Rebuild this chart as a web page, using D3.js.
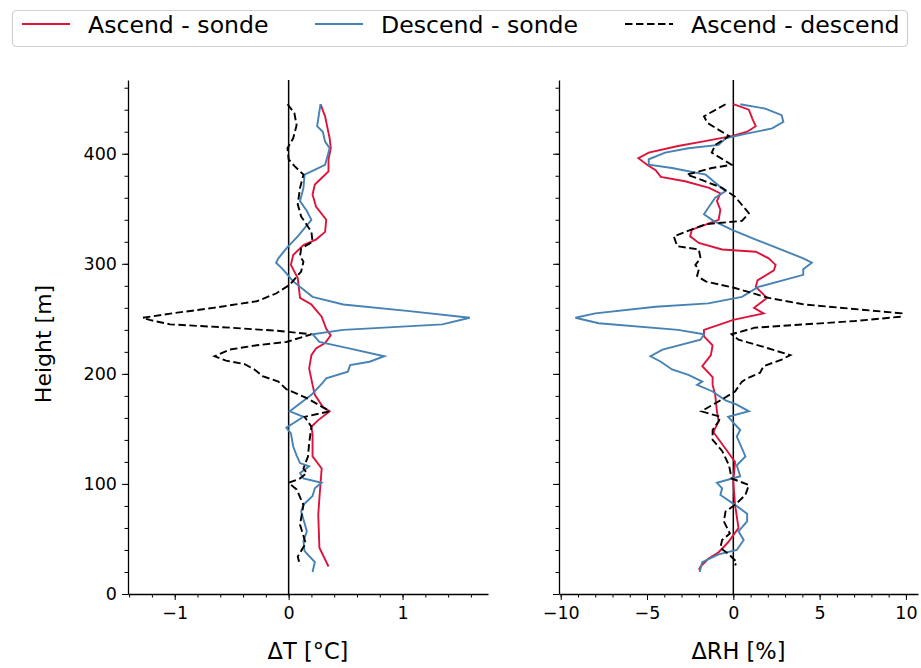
<!DOCTYPE html>
<html>
<head>
<meta charset="utf-8">
<script src="https://cdn.jsdelivr.net/npm/d3@7"></script>
<style>
  body { margin: 0; background: #fff; }
  svg { display: block; font-family: "DejaVu Sans", sans-serif; }
</style>
</head>
<body>
<div id="chart"></div>
<script>
// [height m, value] pairs
const tAscend = [[445,0.28],[434,0.32],[414,0.36],[405,0.37],[395,0.35],[384,0.35],[378,0.29],[372,0.23],[363,0.21],[352,0.24],[340,0.33],[329,0.32],[322,0.24],[317,0.13],[308,0.04],[299,0.02],[287,0.08],[269,0.10],[263,0.20],[252,0.29],[241,0.33],[235,0.37],[228,0.32],[223,0.24],[217,0.20],[205,0.18],[190,0.21],[181,0.23],[170,0.30],[166,0.36],[158,0.26],[152,0.20],[145,0.21],[125,0.21],[114,0.29],[87,0.27],[72,0.26],[42,0.27],[25,0.35]];
const tDescend = [[445,0.28],[425,0.25],[420,0.30],[411,0.32],[405,0.36],[390,0.32],[381,0.14],[369,0.13],[357,0.10],[348,0.16],[340,0.20],[325,0.08],[314,-0.02],[305,-0.09],[301,-0.11],[295,-0.05],[284,0.04],[270,0.21],[263,0.48],[257,1.06],[251,1.59],[245,1.35],[240,0.48],[236,0.21],[229,0.27],[223,0.54],[216,0.84],[211,0.71],[208,0.54],[202,0.52],[196,0.33],[192,0.30],[181,0.20],[166,0.01],[161,0.13],[151,-0.02],[146,0.02],[134,0.04],[126,0.07],[119,0.10],[116,0.18],[110,0.10],[105,0.13],[101,0.29],[96,0.23],[89,0.21],[81,0.13],[75,0.11],[57,0.16],[48,0.13],[39,0.14],[29,0.23],[20,0.21]];
const tDiff = [[445,-0.01],[437,0.05],[426,0.07],[414,0.04],[405,-0.01],[395,0.00],[389,0.05],[381,0.13],[369,0.10],[354,0.08],[343,0.11],[329,0.20],[320,0.21],[314,0.11],[307,0.10],[302,0.13],[293,0.11],[281,0.01],[273,-0.11],[266,-0.28],[260,-0.66],[255,-1.02],[251,-1.28],[249,-1.22],[245,-1.04],[242,-0.52],[239,-0.08],[236,0.20],[229,-0.02],[226,-0.28],[222,-0.52],[216,-0.65],[212,-0.55],[209,-0.39],[204,-0.30],[198,-0.23],[193,-0.09],[186,-0.02],[178,0.16],[166,0.36],[161,0.14],[152,0.20],[137,0.18],[125,0.17],[114,0.13],[110,0.16],[105,0.10],[101,0.00],[95,0.07],[81,0.13],[63,0.10],[46,0.15],[34,0.08],[26,0.10]];

const rhAscend = [[445,0.0],[440,0.9],[432,1.1],[425,1.3],[420,0.8],[416,-0.1],[411,-1.8],[407,-3.2],[401,-4.9],[396,-5.5],[390,-5.0],[385,-4.5],[379,-4.2],[375,-2.8],[369,-1.4],[364,-0.75],[357,-0.95],[349,-0.75],[340,-0.85],[331,-2.4],[325,-2.5],[319,-2.0],[313,-0.65],[311,1.3],[305,2.05],[299,2.45],[294,2.35],[285,1.4],[279,1.3],[269,1.95],[260,1.2],[255,1.75],[249,0.0],[240,-1.7],[234,-1.7],[226,-1.2],[217,-1.3],[207,-1.8],[197,-1.2],[190,-1.2],[181,-1.05],[166,-0.95],[157,-0.85],[147,-1.15],[132,-0.45],[120,0.1],[102,0.0],[81,0.1],[60,0.3],[47,-0.3],[38,-0.85],[32,-1.45],[25,-1.9],[22,-2.0]];
const rhDescend = [[445,0.4],[441,1.85],[435,2.8],[429,2.9],[423,2.25],[418,0.7],[414,-0.45],[408,-0.85],[405,-2.6],[401,-3.95],[395,-4.9],[390,-4.9],[387,-3.55],[381,-1.6],[375,-1.15],[366,-0.45],[360,-1.05],[351,-1.45],[345,-1.7],[339,-1.15],[331,-0.1],[322,1.3],[305,4.05],[301,4.55],[295,4.05],[290,4.05],[279,1.45],[270,0.5],[264,-1.45],[261,-4.5],[255,-8.0],[251,-9.15],[246,-7.8],[240,-3.2],[236,-1.7],[231,-1.9],[222,-4.1],[216,-4.8],[211,-4.2],[204,-3.55],[199,-2.6],[193,-1.8],[190,-2.1],[184,-1.2],[176,-0.45],[172,0.2],[166,0.9],[161,-0.3],[154,0.1],[149,0.4],[143,0.2],[136,0.4],[125,0.7],[117,0.2],[107,0.4],[101,-0.95],[96,-0.65],[90,-0.75],[81,0.1],[73,0.8],[66,0.8],[57,0.3],[49,0.6],[40,0.2],[36,-0.85],[29,-1.8],[20,-1.95]];
const rhDiff = [[445,-0.45],[434,-1.7],[428,-1.5],[416,-0.25],[408,-1.05],[401,-1.25],[390,-0.1],[387,-1.25],[381,-2.7],[376,-1.8],[369,-0.65],[361,0.1],[346,0.9],[339,0.5],[336,-1.6],[325,-3.45],[316,-3.25],[313,-2.0],[305,-1.9],[299,-2.2],[295,-2.0],[289,-2.1],[284,-1.6],[278,0.1],[269,2.05],[263,4.15],[255,9.75],[252,9.75],[248,7.05],[242,1.25],[236,-0.1],[231,0.3],[225,1.65],[217,3.3],[213,2.8],[207,1.75],[201,1.55],[196,0.8],[193,0.5],[184,0.1],[175,-0.85],[166,-1.85],[161,-0.75],[157,-0.85],[149,-1.2],[140,-1.2],[130,-0.65],[117,-0.25],[105,-0.1],[99,0.9],[90,0.7],[81,0.1],[75,-0.45],[66,-0.55],[55,-0.2],[49,-0.65],[42,-0.75],[36,-0.25],[29,0.2],[26,0.1]];

const yTicks = [0, 100, 200, 300, 400];
const tTicks = [-1, 0, 1];
const rhTicks = [-10, -5, 0, 5, 10];
const legendLabels = ["Ascend - sonde", "Descend - sonde", "Ascend - descend"];

const width = 921, height = 668;
const red = "#dc143c", blue = "#4682b4";
const lw = 1.9, dash = "7.5,3.5";

const y = d3.scaleLinear().domain([0, 467]).range([594, 80]);
const xT = d3.scaleLinear().domain([-1.41, 1.75]).range([128, 488]);
const xRH = d3.scaleLinear().domain([-10.1, 10.7]).range([559, 918]);

const svg = d3.select("#chart").append("svg")
    .attr("width", width)
    .attr("height", height);

function panel(x, series, majors, minors, label, showY) {
  const g = svg.append("g");

  // zero line
  g.append("line")
      .attr("x1", x(0)).attr("x2", x(0))
      .attr("y1", y.range()[1]).attr("y2", y.range()[0])
      .attr("stroke", "#000").attr("stroke-width", 1.5);

  const line = d3.line().x(d => x(d[1])).y(d => y(d[0]));
  series.forEach(s => {
    g.append("path")
        .datum(s.data)
        .attr("d", line)
        .attr("fill", "none")
        .attr("stroke", s.color)
        .attr("stroke-width", lw)
        .attr("stroke-dasharray", s.dash || null);
  });

  // x axis
  g.append("g")
      .attr("transform", `translate(0,${y(0)})`)
      .call(d3.axisBottom(x).tickValues(minors).tickSize(3.5).tickSizeOuter(0).tickFormat(""))
      .call(a => a.select(".domain").attr("stroke-width", 1.3));
  g.append("g")
      .attr("transform", `translate(0,${y(0)})`)
      .call(d3.axisBottom(x).tickValues(majors).tickSize(6).tickPadding(7).tickFormat(d3.format("d")))
      .call(a => a.select(".domain").remove())
      .call(a => a.selectAll("text").attr("font-size", 17.5).attr("font-family", "DejaVu Sans").attr("fill", "#000"));

  // y axis
  const yMinor = d3.range(0, 461, 20);
  g.append("g")
      .attr("transform", `translate(${x.range()[0]},0)`)
      .call(d3.axisLeft(y).tickValues(yMinor).tickSize(3.5).tickSizeOuter(0).tickFormat(""))
      .call(a => a.select(".domain").attr("stroke-width", 1.3));
  g.append("g")
      .attr("transform", `translate(${x.range()[0]},0)`)
      .call(d3.axisLeft(y).tickValues(yTicks).tickSize(6).tickPadding(5).tickFormat(showY ? d3.format("d") : ""))
      .call(a => a.select(".domain").remove())
      .call(a => a.selectAll("text").attr("font-size", 17.5).attr("font-family", "DejaVu Sans").attr("fill", "#000"));

  svg.append("text")
      .attr("x", (x.range()[0] + x.range()[1]) / 2)
      .attr("y", 659)
      .attr("text-anchor", "middle")
      .attr("font-size", 22.5)
      .text(label);
}

panel(xT, [
  {data: tAscend, color: red},
  {data: tDescend, color: blue},
  {data: tDiff, color: "#000", dash: dash}
], tTicks, d3.range(-1.4, 1.75, 0.2).map(v => +v.toFixed(1)), "ΔT [°C]", true);

panel(xRH, [
  {data: rhAscend, color: red},
  {data: rhDescend, color: blue},
  {data: rhDiff, color: "#000", dash: dash}
], rhTicks, d3.range(-10, 11, 1), "ΔRH [%]", false);

svg.append("text")
    .attr("transform", "translate(51,344) rotate(-90)")
    .attr("text-anchor", "middle")
    .attr("font-size", 22)
    .text("Height [m]");

// legend
const leg = svg.append("g");
leg.append("rect")
    .attr("x", 12.5).attr("y", 10.5)
    .attr("width", 895).attr("height", 36)
    .attr("rx", 4)
    .attr("fill", "#fff").attr("stroke", "#d0d0d0").attr("stroke-width", 1.2);
const legStyle = [
  {color: red, x: 22},
  {color: blue, x: 315},
  {color: "#000", x: 625, dash: dash}
];
legendLabels.forEach((t, i) => {
  const s = legStyle[i];
  leg.append("line")
      .attr("x1", s.x).attr("x2", s.x + 48)
      .attr("y1", 24).attr("y2", 24)
      .attr("stroke", s.color).attr("stroke-width", lw)
      .attr("stroke-dasharray", s.dash || null);
  leg.append("text")
      .attr("x", s.x + 66).attr("y", 32.5)
      .attr("font-size", 23.6)
      .text(t);
});
</script>
</body>
</html>
